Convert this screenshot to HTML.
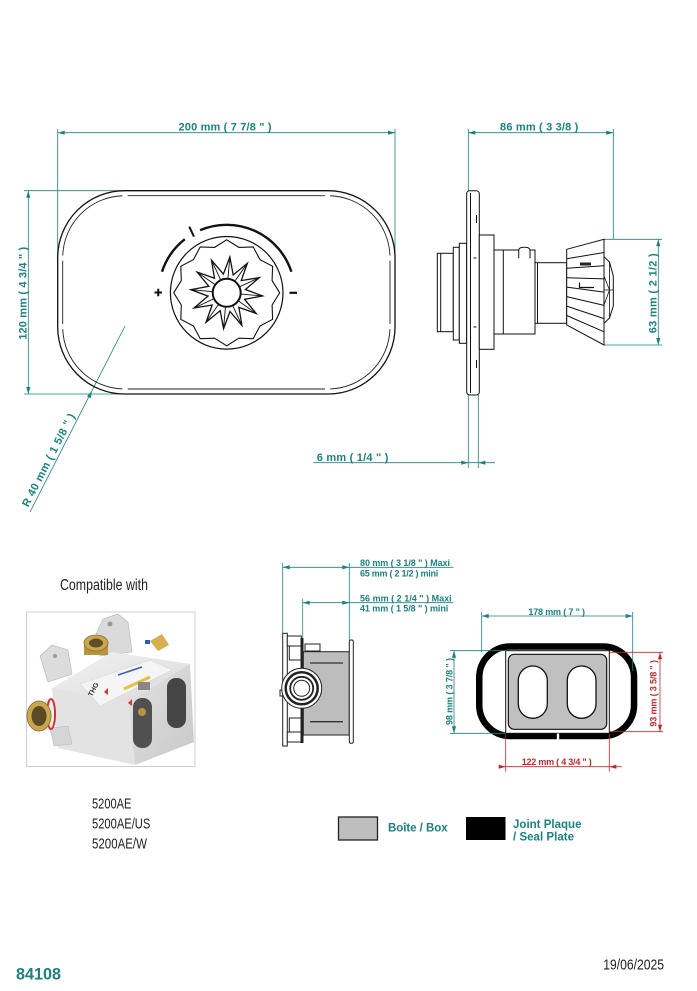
<!DOCTYPE html>
<html><head><meta charset="utf-8"><style>
html,body{margin:0;padding:0;background:#fff;}
svg{display:block;}
.t{font-family:"Liberation Sans",Arial,sans-serif;font-weight:bold;fill:#1a8282;}
.rd{font-family:"Liberation Sans",Arial,sans-serif;font-weight:bold;fill:#c8262b;}
.n{font-family:"Liberation Sans",Arial,sans-serif;fill:#222;}
</style></head><body>
<svg width="697" height="991" viewBox="0 0 697 991" xmlns="http://www.w3.org/2000/svg">
<defs>
<clipPath id="ph"><rect x="26.5" y="612" width="168.5" height="154.5"/></clipPath>
<linearGradient id="gr" x1="0" y1="0" x2="1" y2="1"><stop offset="0" stop-color="#e2e2e2"/><stop offset="1" stop-color="#c8c8c8"/></linearGradient>
<linearGradient id="gl" x1="0" y1="0" x2="1" y2="1"><stop offset="0" stop-color="#f2f2f2"/><stop offset="1" stop-color="#dadada"/></linearGradient>
</defs>

<!-- ============ FRONT VIEW ============ -->
<g fill="none" stroke="#1a8282" stroke-width="0.8">
 <line x1="57.7" y1="129" x2="57.7" y2="258"/>
 <line x1="395" y1="129" x2="395" y2="258"/>
 <line x1="57.7" y1="132.7" x2="395" y2="132.7"/>
 <line x1="24" y1="190.7" x2="126" y2="190.7"/>
 <line x1="24" y1="394" x2="126" y2="394"/>
 <line x1="28.3" y1="190.7" x2="28.3" y2="394"/>
 <line x1="30" y1="512" x2="125" y2="326"/>
 <line x1="468.3" y1="129" x2="468.3" y2="468"/>
 <line x1="613.3" y1="129" x2="613.3" y2="239"/>
 <line x1="468.3" y1="132.7" x2="613.3" y2="132.7"/>
 <line x1="604" y1="239.3" x2="662" y2="239.3"/>
 <line x1="604" y1="345" x2="662" y2="345"/>
 <line x1="658.3" y1="239.3" x2="658.3" y2="345"/>
 <line x1="478.3" y1="395" x2="478.3" y2="468"/>
 <line x1="313.3" y1="462.7" x2="495" y2="462.7"/>
</g>
<g fill="#1a8282">
 <polygon points="57.7,132.7 64.7,130.6 64.7,134.8"/>
 <polygon points="395,132.7 388,130.6 388,134.8"/>
 <polygon points="468.3,132.7 475.3,130.6 475.3,134.8"/>
 <polygon points="613.3,132.7 606.3,130.6 606.3,134.8"/>
 <polygon points="28.3,190.7 26.2,197.7 30.4,197.7"/>
 <polygon points="28.3,394 26.2,387 30.4,387"/>
 <polygon points="658.3,239.3 656.2,246.3 660.4,246.3"/>
 <polygon points="658.3,345 656.2,338 660.4,338"/>
 <polygon points="468.3,462.7 461.3,460.6 461.3,464.8"/>
 <polygon points="478.3,462.7 485.3,460.6 485.3,464.8"/>
 <polygon points="92,391 90.67,398.2 86.93,396.2"/>
</g>
<text class="t" x="225" y="130.7" font-size="11" text-anchor="middle" textLength="93">200 mm ( 7 7/8 " )</text>
<text class="t" transform="translate(26.7,293.3) rotate(-90)" x="0" y="0" font-size="11" text-anchor="middle" textLength="93">120 mm ( 4 3/4 " )</text>
<text class="t" x="539.2" y="130.7" font-size="11" text-anchor="middle" textLength="78.3">86 mm ( 3 3/8 )</text>
<text class="t" transform="translate(656.3,293.3) rotate(-90)" x="0" y="0" font-size="11" text-anchor="middle" textLength="80">63 mm ( 2 1/2 )</text>
<text class="t" x="316.7" y="461" font-size="11" textLength="71.7">6 mm ( 1/4 " )</text>
<text class="t" transform="translate(48.3,460) rotate(-62.9)" x="0" y="3.8" font-size="11" text-anchor="middle" textLength="103">R 40 mm ( 1 5/8 " )</text>

<!-- plate -->
<rect x="57.7" y="190.7" width="337.3" height="203.3" rx="67" fill="none" stroke="#111" stroke-width="1.3"/>
<g fill="none" stroke="#222" stroke-width="0.9">
 <path d="M127.7,195.7 H325 M127.7,389 H325 M62.7,260.7 V324 M390,260.7 V324"/>
 <path d="M62.74,255.5 A62,62 0 0 1 122.5,195.74"/>
 <path d="M330.2,195.74 A62,62 0 0 1 389.96,255.5"/>
 <path d="M389.96,329.2 A62,62 0 0 1 330.2,388.96"/>
 <path d="M122.5,388.96 A62,62 0 0 1 62.74,329.2"/>
</g>

<!-- knob front -->
<g fill="none" stroke="#111">
 <circle cx="226.7" cy="292.8" r="56.3" stroke-width="1.2" fill="#fff"/>
 <polygon stroke-width="1.1" points="226.7,239.8 238.86,247.4 253.2,246.9 259.93,259.57 272.6,266.3 272.1,280.6 279.7,292.8 272.1,305 272.6,319.3 259.93,326.03 253.2,338.7 238.86,338.2 226.7,345.8 214.54,338.2 200.2,338.7 193.47,326.03 180.8,319.3 181.3,305 173.7,292.8 181.3,280.6 180.8,266.3 193.47,259.57 200.2,246.9 214.54,247.4"/>
 <polygon stroke-width="1.3" fill="#fff" points="229.84,256.94 233.2,274.95 247.35,263.31 241.25,280.59 259.33,277.59 245.41,289.5 262.56,295.94 244.55,299.3 256.19,313.45 238.91,307.35 241.91,325.43 230,311.51 223.56,328.66 220.2,310.65 206.05,322.29 212.15,305.01 194.07,308.01 207.99,296.1 190.84,289.66 208.85,286.3 197.21,272.15 214.49,278.25 211.49,260.17 223.4,274.09"/>
 <g stroke-width="0.9">
  <line x1="229.84" y1="256.94" x2="226.7" y2="292.8"/>
  <line x1="247.35" y1="263.31" x2="226.7" y2="292.8"/>
  <line x1="259.33" y1="277.59" x2="226.7" y2="292.8"/>
  <line x1="262.56" y1="295.94" x2="226.7" y2="292.8"/>
  <line x1="256.19" y1="313.45" x2="226.7" y2="292.8"/>
  <line x1="241.91" y1="325.43" x2="226.7" y2="292.8"/>
  <line x1="223.56" y1="328.66" x2="226.7" y2="292.8"/>
  <line x1="206.05" y1="322.29" x2="226.7" y2="292.8"/>
  <line x1="194.07" y1="308.01" x2="226.7" y2="292.8"/>
  <line x1="190.84" y1="289.66" x2="226.7" y2="292.8"/>
  <line x1="197.21" y1="272.15" x2="226.7" y2="292.8"/>
  <line x1="211.49" y1="260.17" x2="226.7" y2="292.8"/>
 </g>
 <circle cx="226.7" cy="292.8" r="14" stroke-width="2" fill="#fff"/>
 <path d="M162,271.8 A68,68 0 0 1 184.8,239.2" stroke-width="2.4"/>
 <path d="M200.1,230.2 A68,68 0 0 1 291.4,271.8" stroke-width="2.4"/>
 <line x1="189.3" y1="226.7" x2="194" y2="236.7" stroke-width="2"/>
 <path d="M154.5,292.5 H162 M158.25,288.7 V296.3" stroke-width="2"/>
 <line x1="289.5" y1="292.8" x2="297" y2="292.8" stroke-width="2.2"/>
</g>

<!-- ============ SIDE VIEW ============ -->
<g fill="#fff" stroke="#111" stroke-width="1">
 <rect x="437.3" y="253.3" width="16" height="78.4"/>
 <line x1="440.7" y1="253.3" x2="440.7" y2="331.7"/>
 <rect x="453.3" y="247.3" width="6" height="92.7"/>
 <rect x="459.3" y="243.3" width="7.4" height="100"/>
 <rect x="466.7" y="190.7" width="12.6" height="204.3" rx="3"/>
 <line x1="470.5" y1="193" x2="470.5" y2="393"/>
 <path d="M473.5,258 h3 M473.5,327 h3 M476.5,215 v8 M476.5,360 v8" />
 <rect x="479.3" y="235" width="14.7" height="114.3"/>
 <rect x="494" y="250" width="41" height="84"/>
 <line x1="503.3" y1="250" x2="503.3" y2="334"/>
 <path d="M518.7,258.3 V250.5 Q518.7,247.3 524.35,247.3 Q530,247.3 530,250.5 V258.3"/>
 <rect x="535" y="262.7" width="31.7" height="60.6"/>
 <line x1="537.5" y1="262.7" x2="537.5" y2="323.3"/>
 <polygon points="566.7,249.3 604,239.3 604,345 566.7,325"/>
 <g fill="none">
  <line x1="566.7" y1="258.8" x2="604" y2="252.5"/>
  <line x1="566.7" y1="268.2" x2="604" y2="265.7"/>
  <line x1="566.7" y1="277.7" x2="604" y2="278.9"/>
  <line x1="566.7" y1="287.1" x2="604" y2="292.1"/>
  <line x1="566.7" y1="296.6" x2="604" y2="305.4"/>
  <line x1="566.7" y1="306.1" x2="604" y2="318.6"/>
  <line x1="566.7" y1="315.5" x2="604" y2="331.8"/>
 </g>
 <polygon points="604,256.7 609.5,262 613.3,276 613.3,306 609.5,318 604,323.3"/>
 <path d="M604,290 L613.3,290 M609.5,262 L609.5,318 M604,276 L609.5,290 L604,305" fill="none" stroke-width="0.8"/>
</g>
<rect x="580" y="262.5" width="11" height="3" fill="#222"/>
<path d="M579.5,282.5 V287.5 H594" fill="none" stroke="#111" stroke-width="1.2"/>

<!-- ============ PHOTO ============ -->
<text class="n" x="60" y="590" font-size="15.5" textLength="88" lengthAdjust="spacingAndGlyphs">Compatible with</text>
<rect x="26.5" y="612" width="168.5" height="154.5" fill="#fff" stroke="#cfcfcf" stroke-width="1"/>
<g clip-path="url(#ph)">
 <polygon points="96,634 103,619 118,614 128,622 132,652 100,656" fill="#dadada" stroke="#b5b5b5" stroke-width="0.6"/>
 <circle cx="110" cy="624" r="2.5" fill="#9a9a9a"/>
 <polygon points="40,656 52,645 68,650 72,674 48,682" fill="#dcdcdc" stroke="#b5b5b5" stroke-width="0.6"/>
 <circle cx="55" cy="656" r="2" fill="#999"/>
 <polygon points="52,688 112,652 190,664 128,702" fill="url(#gl)"/>
 <polygon points="52,688 128,702 135,765 58,748" fill="#e3e3e3"/>
 <polygon points="128,702 190,664 194,742 135,765" fill="url(#gr)"/>
 <polygon points="50,728 68,726 72,744 54,746" fill="#d5d5d5" stroke="#b5b5b5" stroke-width="0.5"/>
 <polygon points="80,684 150,660 172,670 100,706" fill="#f5f5f5" stroke="#d8d8d8" stroke-width="0.6"/>
 <text x="0" y="0" transform="translate(92,697) rotate(-62)" font-family="Liberation Sans, sans-serif" font-weight="bold" font-size="7" fill="#333">THG</text>
 <line x1="118" y1="675" x2="142" y2="667" stroke="#3b5fc0" stroke-width="1.6"/>
 <line x1="124" y1="689" x2="150" y2="677" stroke="#e6c23a" stroke-width="3"/>
 <polygon points="104,692 108,688 108,695" fill="#d33"/>
 <polygon points="128,703 132,699 132,706" fill="#d33"/>
 <rect x="138" y="682" width="12" height="8" fill="#888"/>
 <rect x="133" y="698" width="19" height="50" rx="9" fill="#505050"/>
 <circle cx="142" cy="712" r="4" fill="#b8943e"/>
 <rect x="167" y="678" width="19" height="50" rx="9" fill="#454545"/>
 <rect x="84" y="643" width="24" height="12" fill="#b8933e"/>
 <ellipse cx="96" cy="643" rx="12" ry="8" fill="#caa64f" stroke="#8a6d2a" stroke-width="0.8"/>
 <ellipse cx="96" cy="643" rx="7" ry="4.5" fill="#5e4d28"/>
 <polygon points="150,641 162,634 169,645 158,651" fill="#d4b04f"/>
 <rect x="145" y="640" width="5" height="4" fill="#2f5bb0"/>
 <ellipse cx="47" cy="715" rx="6" ry="16" fill="#e8e8e8"/>
 <ellipse cx="51" cy="714" rx="4" ry="15" fill="none" stroke="#c33" stroke-width="2"/>
 <ellipse cx="39" cy="716" rx="12" ry="15" fill="#caa64f" stroke="#8a6d2a" stroke-width="0.8"/>
 <ellipse cx="39" cy="716" rx="7.5" ry="10" fill="#5a4a25"/>
</g>
<text class="n" x="92" y="808.3" font-size="15" textLength="39.4" lengthAdjust="spacingAndGlyphs">5200AE</text>
<text class="n" x="92" y="828.3" font-size="15" textLength="58.3" lengthAdjust="spacingAndGlyphs">5200AE/US</text>
<text class="n" x="92" y="848.3" font-size="15" textLength="55" lengthAdjust="spacingAndGlyphs">5200AE/W</text>

<!-- ============ BOX SECTION ============ -->
<g fill="none" stroke="#1a8282" stroke-width="0.8">
 <line x1="282.7" y1="563" x2="282.7" y2="633"/>
 <line x1="302.7" y1="599" x2="302.7" y2="638"/>
 <line x1="349.3" y1="563" x2="349.3" y2="640"/>
 <line x1="282.7" y1="567.3" x2="453.3" y2="567.3"/>
 <line x1="302.7" y1="602.7" x2="453.3" y2="602.7"/>
</g>
<g fill="#1a8282">
 <polygon points="282.7,567.3 289.7,565.2 289.7,569.4"/>
 <polygon points="349.3,567.3 342.3,565.2 342.3,569.4"/>
 <polygon points="302.7,602.7 309.7,600.6 309.7,604.8"/>
 <polygon points="349.3,602.7 342.3,600.6 342.3,604.8"/>
</g>
<text class="t" x="360" y="566.2" font-size="9" textLength="90">80 mm ( 3 1/8 " )  Maxi</text>
<text class="t" x="360" y="576.7" font-size="9" textLength="78.3">65 mm ( 2 1/2 ) mini</text>
<text class="t" x="360" y="601.3" font-size="9" textLength="91.7">56 mm ( 2 1/4 " )  Maxi</text>
<text class="t" x="360" y="611.5" font-size="9" textLength="88.3">41 mm ( 1 5/8 " )  mini</text>

<g fill="#fff" stroke="#222" stroke-width="1">
 <rect x="282.7" y="633.3" width="4.6" height="112.7"/>
 <rect x="280" y="690" width="2.7" height="6"/>
 <rect x="287.3" y="636" width="14" height="10"/>
 <rect x="289.3" y="646" width="12.4" height="14"/>
 <rect x="305" y="644" width="15" height="7"/>
 <rect x="287.3" y="732" width="14" height="10"/>
 <rect x="289.3" y="718" width="12.4" height="14"/>
 <rect x="305" y="727" width="15" height="7"/>
 <rect x="303.3" y="651.7" width="46" height="83.3" fill="#bdbdbd"/>
 <rect x="349.3" y="640" width="4" height="103.3" rx="1.5"/>
</g>
<rect x="300.5" y="638" width="3" height="105" fill="#222"/>
<g stroke="#333" stroke-width="1.3">
 <line x1="310" y1="663" x2="343" y2="663"/>
 <line x1="310" y1="721.7" x2="343" y2="721.7"/>
</g>
<g stroke="#222">
 <circle cx="301.7" cy="688.3" r="20" fill="#fff" stroke-width="1"/>
 <circle cx="301.7" cy="688.3" r="16" fill="none" stroke-width="2.5"/>
 <circle cx="301.7" cy="688.3" r="11.5" fill="#fff" stroke-width="1.8"/>
 <circle cx="301.7" cy="688.3" r="8" fill="#fff" stroke-width="1"/>
</g>

<!-- ============ PLATE / SEAL ============ -->
<rect x="479.25" y="646.5" width="154.8" height="89.5" rx="31" fill="none" stroke="#000" stroke-width="6.5"/>
<rect x="505.7" y="650.7" width="103.6" height="82.6" fill="#fff" stroke="#111" stroke-width="1"/>
<rect x="508.3" y="654.3" width="98.4" height="75" rx="6" fill="#c0c0c0" stroke="#111" stroke-width="1.2"/>
<rect x="518.3" y="666" width="29" height="52.3" rx="14.5" fill="#fff" stroke="#111" stroke-width="1.3"/>
<rect x="567.3" y="666" width="28.7" height="52.3" rx="14.3" fill="#fff" stroke="#111" stroke-width="1.3"/>
<rect x="556.8" y="733.5" width="2.4" height="8" fill="#fff"/>

<g fill="none" stroke="#1a8282" stroke-width="0.8">
 <line x1="481.7" y1="612" x2="481.7" y2="652"/>
 <line x1="632.7" y1="612" x2="632.7" y2="671"/>
 <line x1="481.7" y1="616" x2="632.7" y2="616"/>
 <line x1="450" y1="650.7" x2="505.7" y2="650.7"/>
 <line x1="450" y1="733.3" x2="505.7" y2="733.3"/>
 <line x1="454" y1="650.7" x2="454" y2="733.3"/>
</g>
<g fill="#1a8282">
 <polygon points="481.7,616 488.7,613.9 488.7,618.1"/>
 <polygon points="632.7,616 625.7,613.9 625.7,618.1"/>
 <polygon points="454,650.7 451.9,657.7 456.1,657.7"/>
 <polygon points="454,733.3 451.9,726.3 456.1,726.3"/>
</g>
<g fill="none" stroke="#c8262b" stroke-width="0.8">
 <line x1="609.3" y1="652.3" x2="663" y2="652.3"/>
 <line x1="609.3" y1="731.7" x2="663" y2="731.7"/>
 <line x1="660" y1="652.3" x2="660" y2="731.7"/>
 <line x1="505.7" y1="734" x2="505.7" y2="771.5"/>
 <line x1="609.3" y1="734" x2="609.3" y2="771.5"/>
 <line x1="499.3" y1="766.7" x2="621.7" y2="766.7"/>
</g>
<g fill="#c8262b">
 <polygon points="660,652.3 657.9,659.3 662.1,659.3"/>
 <polygon points="660,731.7 657.9,724.7 662.1,724.7"/>
 <polygon points="505.7,766.7 498.7,764.6 498.7,768.8"/>
 <polygon points="609.3,766.7 616.3,764.6 616.3,768.8"/>
</g>
<text class="t" x="556.7" y="614.8" font-size="9" text-anchor="middle" textLength="56.7">178 mm ( 7 " )</text>
<text class="t" transform="translate(452.3,691.5) rotate(-90)" x="0" y="0" font-size="9" text-anchor="middle" textLength="67">98 mm ( 3 7/8 " )</text>
<text class="rd" transform="translate(656.6,693.3) rotate(-90)" x="0" y="0" font-size="9" text-anchor="middle" textLength="66.7">93 mm ( 3 5/8 " )</text>
<text class="rd" x="556.7" y="765" font-size="9" text-anchor="middle" textLength="70">122 mm ( 4 3/4 " )</text>

<!-- ============ LEGEND ============ -->
<rect x="338.5" y="817" width="39" height="23" fill="#bebebe" stroke="#222" stroke-width="1.3"/>
<text class="t" x="388" y="831.5" font-size="11.5" textLength="59.6">Boîte / Box</text>
<rect x="466" y="817" width="39.5" height="23" fill="#000"/>
<text class="t" x="513" y="828" font-size="11.5" textLength="68.5">Joint Plaque</text>
<text class="t" x="513" y="840.5" font-size="11.5" textLength="61">/ Seal Plate</text>

<!-- ============ FOOTER ============ -->
<text class="t" x="16" y="979.3" font-size="17" textLength="45" lengthAdjust="spacingAndGlyphs">84108</text>
<text class="n" x="603.3" y="969.3" font-size="15" fill="#111" textLength="60.7" lengthAdjust="spacingAndGlyphs">19/06/2025</text>
</svg>
</body></html>
